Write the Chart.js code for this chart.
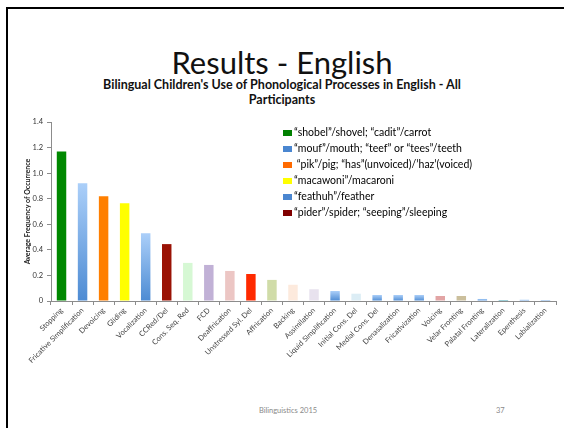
<!DOCTYPE html>
<html>
<head>
<meta charset="utf-8">
<script src="https://cdn.jsdelivr.net/npm/chart.js@4.4.1/dist/chart.umd.min.js"></script>
<style>
  html, body { margin: 0; padding: 0; background: #fff; }
  #slide { position: relative; width: 564px; height: 428px; overflow: hidden; font-family: Lato, "Open Sans", sans-serif; }
  #frame { position: absolute; left: 6px; top: 7px; width: 600px; height: 500px; border-top: 2.5px solid #000; border-left: 2.5px solid #000; }
  #heading { position: absolute; left: 0; width: 564px; top: 44px; text-align: center; font-size: 31px; line-height: 36px; color: #111; }
  #subheading { position: absolute; left: 0; width: 564px; top: 77px; text-align: center; font-size: 12.5px; font-weight: bold; line-height: 15px; color: #111; }
  #footer { position: absolute; left: 0; width: 564px; top: 406px; text-align: center; font-size: 7.5px; color: #8a8a8a; padding-left: 12px; box-sizing: border-box; }
  #pageNo { position: absolute; left: 496px; top: 406px; font-size: 7.5px; color: #8a8a8a; }
  #chartBox { position: absolute; left: 0; top: 100px; width: 564px; height: 300px; }
</style>
</head>
<body>
<div id="slide">
  <div id="frame"></div>
  <div id="heading">Results - English</div>
  <div id="subheading">Bilingual Children's Use of Phonological Processes in English - All<br>Participants</div>
  <div id="chartBox"><canvas id="myBarChart" width="564" height="300"></canvas></div>
  <div id="footer">Bilinguistics 2015</div>
  <div id="pageNo">37</div>
</div>
<script>
var processNames = ["Stopping", "Fricative Simplification", "Devoicing", "Gliding", "Vocalization", "CCRed/Del",
  "Cons. Seq. Red", "FCD", "Deaffrication", "Unstressed Syl. Del", "Affrication", "Backing", "Assimilation",
  "Liquid Simplification", "Initial Cons. Del", "Medial Cons. Del", "Denasalization", "Fricativization",
  "Voicing", "Velar Fronting", "Palatal Fronting", "Lateralization", "Epenthesis", "Labialization"];

var avgFrequency = [1.17, 0.92, 0.82, 0.765, 0.53, 0.445, 0.298, 0.282, 0.235, 0.211, 0.165, 0.127, 0.092,
  0.078, 0.057, 0.047, 0.047, 0.047, 0.039, 0.039, 0.016, 0.008, 0.01, 0.008];

// "grad" = the shaded blue fill
var barColors = ["#008800", "grad", "#ff7f00", "#ffff00", "grad", "#9a1205",
  "#d6f8d4", "#c1b1d6", "#ecc6c4", "#ff2a00", "#d0dca8", "#fdeadd", "#e8e2ee",
  "grad", "#dcedf5", "grad", "grad", "grad",
  "#e2a4a4", "#cbbf9c", "grad", "#3ea0b0", "grad", "grad"];

var yTicks = [0, 0.2, 0.4, 0.6, 0.8, 1, 1.2, 1.4];

var legendLabels = ["\u201cshobel\u201d/shovel; \u201ccadit\u201d/carrot",
  "\u201cmouf\u201d/mouth; \u201cteef\u201d or \u201ctees\u201d/teeth",
  " \u201cpik\u201d/pig; \u201chas\u201d(unvoiced)/\u2019haz\u2019(voiced)",
  "\u201cmacawoni\u201d/macaroni",
  "\u201cfeathuh\u201d/feather",
  "\u201cpider\u201d/spider; \u201cseeping\u201d/sleeping"];
var legendColors = ["#008000", "#4a86d0", "#ff6a00", "#ffff00", "#4a86d0", "#800000"];

var FONT = "Lato, 'Open Sans', sans-serif";

function barFill(context) {
  var c = barColors[context.dataIndex];
  if (c != "grad") return c;
  var chart = context.chart;
  if (!chart.chartArea) return "#6fa4e4";
  var y = chart.scales.y;
  var top = y.getPixelForValue(avgFrequency[context.dataIndex]);
  var bottom = y.getPixelForValue(0);
  if (bottom - top < 1) return "#6fa4e4";
  var g = chart.ctx.createLinearGradient(0, top, 0, bottom);
  g.addColorStop(0, "#abcff9");
  g.addColorStop(1, "#4d8bd3");
  return g;
}

// legend with its own entries, drawn inside the plot area
var innerLegend = {
  id: "innerLegend",
  afterDraw: function(chart) {
    var ctx = chart.ctx;
    var a = chart.chartArea;
    ctx.save();
    ctx.font = "10.5px " + FONT;
    ctx.textBaseline = "middle";
    for (var i = 0; i < legendLabels.length; i++) {
      var cy = a.top + 11 + i * 16;
      ctx.fillStyle = legendColors[i];
      ctx.fillRect(a.left + 232, cy - 3, 9, 6);
      ctx.fillStyle = "#000";
      ctx.fillText(legendLabels[i], a.left + 243, cy);
    }
    ctx.restore();
  }
};

var ctx = document.getElementById("myBarChart");
var myChart = new Chart(ctx, {
  type: "bar",
  data: {
    labels: processNames,
    datasets: [{
      label: "Average Frequency of Occurrence",
      data: avgFrequency,
      backgroundColor: barFill,
      borderWidth: 0,
      barPercentage: 0.45,
      categoryPercentage: 1
    }]
  },
  options: {
    responsive: false,
    animation: false,
    layout: { padding: { left: 24, right: 8, top: 22, bottom: 0 } },
    plugins: {
      legend: { display: false },
      tooltip: { enabled: false }
    },
    scales: {
      x: {
        grid: { display: true, drawOnChartArea: false, drawTicks: true, tickLength: 4, color: "#8c8c8c" },
        border: { color: "#8c8c8c", width: 1 },
        ticks: { autoSkip: false, minRotation: 45, maxRotation: 45, padding: 1, color: "#444", font: { family: FONT, size: 7.5 } },
        afterFit: function(s) { s.height = 99; }
      },
      y: {
        min: 0,
        max: 1.4,
        afterBuildTicks: function(s) { s.ticks = yTicks.map(function(v) { return { value: v }; }); },
        grid: { display: true, drawOnChartArea: false, drawTicks: true, tickLength: 4, color: "#8c8c8c" },
        border: { color: "#8c8c8c", width: 1 },
        ticks: { padding: 4, color: "#333", font: { family: FONT, size: 7.5 } },
        title: { display: true, text: "Average Frequency of Occurrence", color: "#222", padding: 0, font: { family: FONT, size: 7, weight: "bold" } },
        afterFit: function(s) { s.width = 27; }
      }
    }
  },
  plugins: [innerLegend]
});
</script>
</body>
</html>
